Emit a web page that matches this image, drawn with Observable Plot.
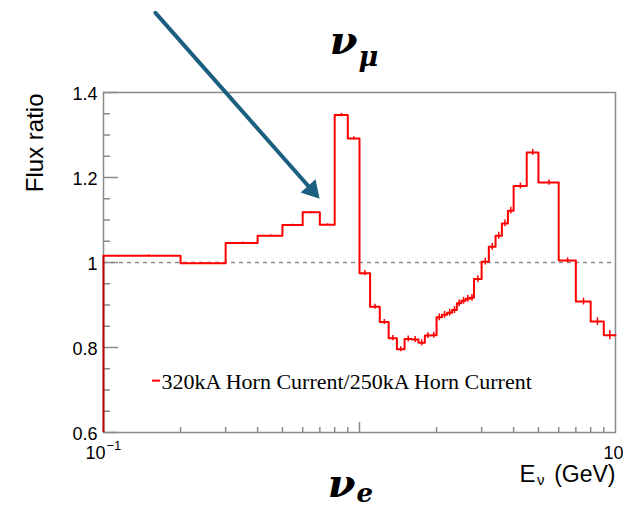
<!DOCTYPE html>
<html><head><meta charset="utf-8">
<script src="https://cdn.jsdelivr.net/npm/d3@7"></script>
<script src="https://cdn.jsdelivr.net/npm/@observablehq/plot@0.6"></script>
<style>html,body{margin:0;padding:0;background:#fff;overflow:hidden}</style>
</head><body><div id="chart"></div>
<script>
// Histogram bin edges (GeV) and ratio values
const binEdges = [0.1,0.2,0.3,0.4,0.5,0.6,0.7,0.8,0.9,1.0,
  1.1,1.2,1.3,1.4,1.5,1.6,1.7,1.8,1.9,2.0,
  2.1,2.2,2.3,2.4,2.5,2.6,2.7,2.8,3.0,3.2,3.4,3.6,3.8,4.0,4.5,5,6,7,8,9,10];
const fluxRatio = [1.016,0.998,1.046,1.063,1.088,1.118,1.089,1.347,1.292,
  0.975,0.896,0.860,0.822,0.796,0.820,0.819,0.811,0.828,0.829,
  0.871,0.877,0.882,0.888,0.904,0.910,0.915,0.917,
  0.961,1.002,1.037,1.063,1.092,1.122,
  1.180,1.259,1.188,1.005,0.908,0.861,0.829];
const ratioError = [0.002,0.002,0.002,0.002,0.002,0.002,0.002,0.004,0.004,
  0.006,0.006,0.006,0.006,0.006,0.007,0.007,0.007,0.007,0.007,
  0.008,0.008,0.008,0.008,0.008,0.008,0.008,0.008,
  0.008,0.008,0.008,0.008,0.008,0.008,
  0.007,0.007,0.006,0.006,0.008,0.009,0.011];

const yMajorTicks = [0.6,0.8,1.0,1.2,1.4];
const yTickLabels = ["0.6","0.8","1","1.2","1.4"];
const yMinorTicks = [0.65,0.7,0.75,0.85,0.9,0.95,1.05,1.1,1.15,1.25,1.3,1.35];
const xMajorTicks = [1];
const xMinorTicks = [0.2,0.3,0.4,0.5,0.6,0.7,0.8,0.9,2,3,4,5,6,7,8,9];
const xTickValues = [0.1,10];
const xTickBase = ["10","10"];
const xTickExp = ["\u22121",""];
const referenceLine = [1.0];
const legendLabel = "320kA Horn Current/250kA Horn Current";
const legendRowY = [0.722];
const xTitleMain = "E";
const xTitleSub = "\u03bd";
const xTitleUnit = "(GeV)";
const yTitle = "Flux ratio";
const arrowStart = [0.1596, 1.5875];
const arrowTip = [0.698, 1.150];

const red = "#ff0000";
const gray = "#8a8a8a";
const arrowColor = "#1b5f80";
const sans = "Liberation Sans, Arial, Helvetica, sans-serif";
const serif = "Liberation Serif, Times New Roman, serif";
const mathFont = "DejaVu Serif, serif";

const bins = fluxRatio.map((v, i) => ({x0: binEdges[i], x1: binEdges[i+1], v, e: ratioError[i]}));
const stepPts = bins.map(b => ({x: b.x0, y: b.v})).concat([{x: binEdges[binEdges.length-1], y: fluxRatio[fluxRatio.length-1]}]);
const arrowData = [{x1: arrowStart[0], y1: arrowStart[1], x2: arrowTip[0], y2: arrowTip[1]}];

const frameW = 623 - 103 - 8, frameH = 508 - 92 - 76;

const chart = Plot.plot({
  width: 623, height: 508,
  marginLeft: 103, marginRight: 8, marginTop: 92, marginBottom: 76,
  x: {type: "log", domain: [binEdges[0], binEdges[binEdges.length-1]], axis: null},
  y: {domain: [yMajorTicks[0], yMajorTicks[yMajorTicks.length-1]], axis: null},
  style: {background: "white", overflow: "visible"},
  marks: [
    Plot.ruleY(referenceLine, {y: d => d, stroke: gray, strokeWidth: 1.5, strokeDasharray: "4,4"}),
    Plot.tickY(yMajorTicks, {y: d => d, stroke: gray, strokeWidth: 1.5, insetRight: frameW - 15}),
    Plot.tickY(yMinorTicks, {y: d => d, stroke: gray, strokeWidth: 1.5, insetRight: frameW - 7}),
    Plot.tickX(xMajorTicks, {x: d => d, stroke: gray, strokeWidth: 1.5, insetTop: frameH - 10}),
    Plot.tickX(xMinorTicks, {x: d => d, stroke: gray, strokeWidth: 1.5, insetTop: frameH - 5}),
    Plot.frame({stroke: gray, strokeWidth: 1.5}),
    Plot.ruleX([binEdges[0]], {x: d => d, y1: yMajorTicks[0], y2: fluxRatio[0], stroke: "#c00000", strokeWidth: 2}),
    Plot.line(stepPts, {x: "x", y: "y", curve: "step-after", stroke: red, strokeWidth: 2}),
    Plot.ruleX(bins, {x: b => (b.x0 + b.x1) / 2, y1: b => b.v - b.e, y2: b => b.v + b.e, stroke: red, strokeWidth: 1.5}),
    // y tick labels
    Plot.text(yMajorTicks, {y: d => d, text: (d, i) => yTickLabels[i], frameAnchor: "left", dx: -6, dy: 2, textAnchor: "end", lineAnchor: "middle", fontSize: 18, fontFamily: sans, fill: "black"}),
    // x tick labels
    Plot.text([xTickValues[1]], {x: d => d, text: () => xTickBase[1], frameAnchor: "bottom", dx: 8, dy: 26, textAnchor: "end", lineAnchor: "bottom", fontSize: 18, fontFamily: sans, fill: "black"}),
    Plot.text([xTickValues[0]], {x: d => d, text: () => xTickBase[0], frameAnchor: "bottom", dx: 2, dy: 26, textAnchor: "end", lineAnchor: "bottom", fontSize: 18, fontFamily: sans, fill: "black"}),
    Plot.text([xTickValues[0]], {x: d => d, text: () => xTickExp[0], frameAnchor: "bottom", dx: 3, dy: 17, textAnchor: "start", lineAnchor: "bottom", fontSize: 13, fontFamily: sans, fill: "black"}),
    // axis titles
    Plot.text([yTitle], {text: d => d, frameAnchor: "top-left", dx: -61, dy: 1, rotate: -90, textAnchor: "end", lineAnchor: "bottom", fontSize: 24, fontFamily: sans, fill: "black"}),
    Plot.text([xTitleUnit], {text: d => d, frameAnchor: "bottom-right", dx: 0, dy: 49, textAnchor: "end", lineAnchor: "bottom", fontSize: 23, fontFamily: sans, fill: "black"}),
    Plot.text([xTitleSub], {text: d => d, frameAnchor: "bottom-right", dx: -71, dy: 52, textAnchor: "end", lineAnchor: "bottom", fontSize: 15, fontFamily: sans, fill: "black"}),
    Plot.text([xTitleMain], {text: d => d, frameAnchor: "bottom-right", dx: -80, dy: 49, textAnchor: "end", lineAnchor: "bottom", fontSize: 24, fontFamily: sans, fill: "black"}),
    // legend
    Plot.tickY(legendRowY, {y: d => d, stroke: red, strokeWidth: 2, insetLeft: 49, insetRight: frameW - 57}),
    Plot.text(legendRowY, {y: d => d, text: () => legendLabel, frameAnchor: "left", dx: 58, dy: 1, textAnchor: "start", lineAnchor: "middle", fontSize: 22, fontFamily: serif, fill: "black"}),
    // annotations
    Plot.text(["\u03bd"], {text: d => d, frameAnchor: "top", dx: -2, dy: -39, textAnchor: "end", lineAnchor: "bottom", fontSize: 40, fontWeight: "bold", fontStyle: "italic", fontFamily: mathFont, fill: "black"}),
    Plot.text(["\u03bc"], {text: d => d, frameAnchor: "top", dx: -1, dy: -27, textAnchor: "start", lineAnchor: "bottom", fontSize: 27, fontWeight: "bold", fontStyle: "italic", fontFamily: mathFont, fill: "black"}),
    Plot.text(["\u03bd"], {text: d => d, frameAnchor: "bottom", dx: -4, dy: 64, textAnchor: "end", lineAnchor: "bottom", fontSize: 40, fontWeight: "bold", fontStyle: "italic", fontFamily: mathFont, fill: "black"}),
    Plot.text(["e"], {text: d => d, frameAnchor: "bottom", dx: -3, dy: 69, textAnchor: "start", lineAnchor: "bottom", fontSize: 26, fontWeight: "bold", fontStyle: "italic", fontFamily: mathFont, fill: "black"}),
    Plot.arrow(arrowData, {x1: "x1", y1: "y1", x2: "x2", y2: "y2", stroke: arrowColor, strokeWidth: 4, headLength: 0, insetEnd: 9}),
    Plot.dot([arrowTip], {x: d => d[0], y: d => d[1], symbol: "triangle", r: 7.4, fill: arrowColor, stroke: "none", rotate: 138.4, dx: -7.6, dy: -8.6})
  ]
});
document.getElementById("chart").appendChild(chart);
</script>
</body></html>
